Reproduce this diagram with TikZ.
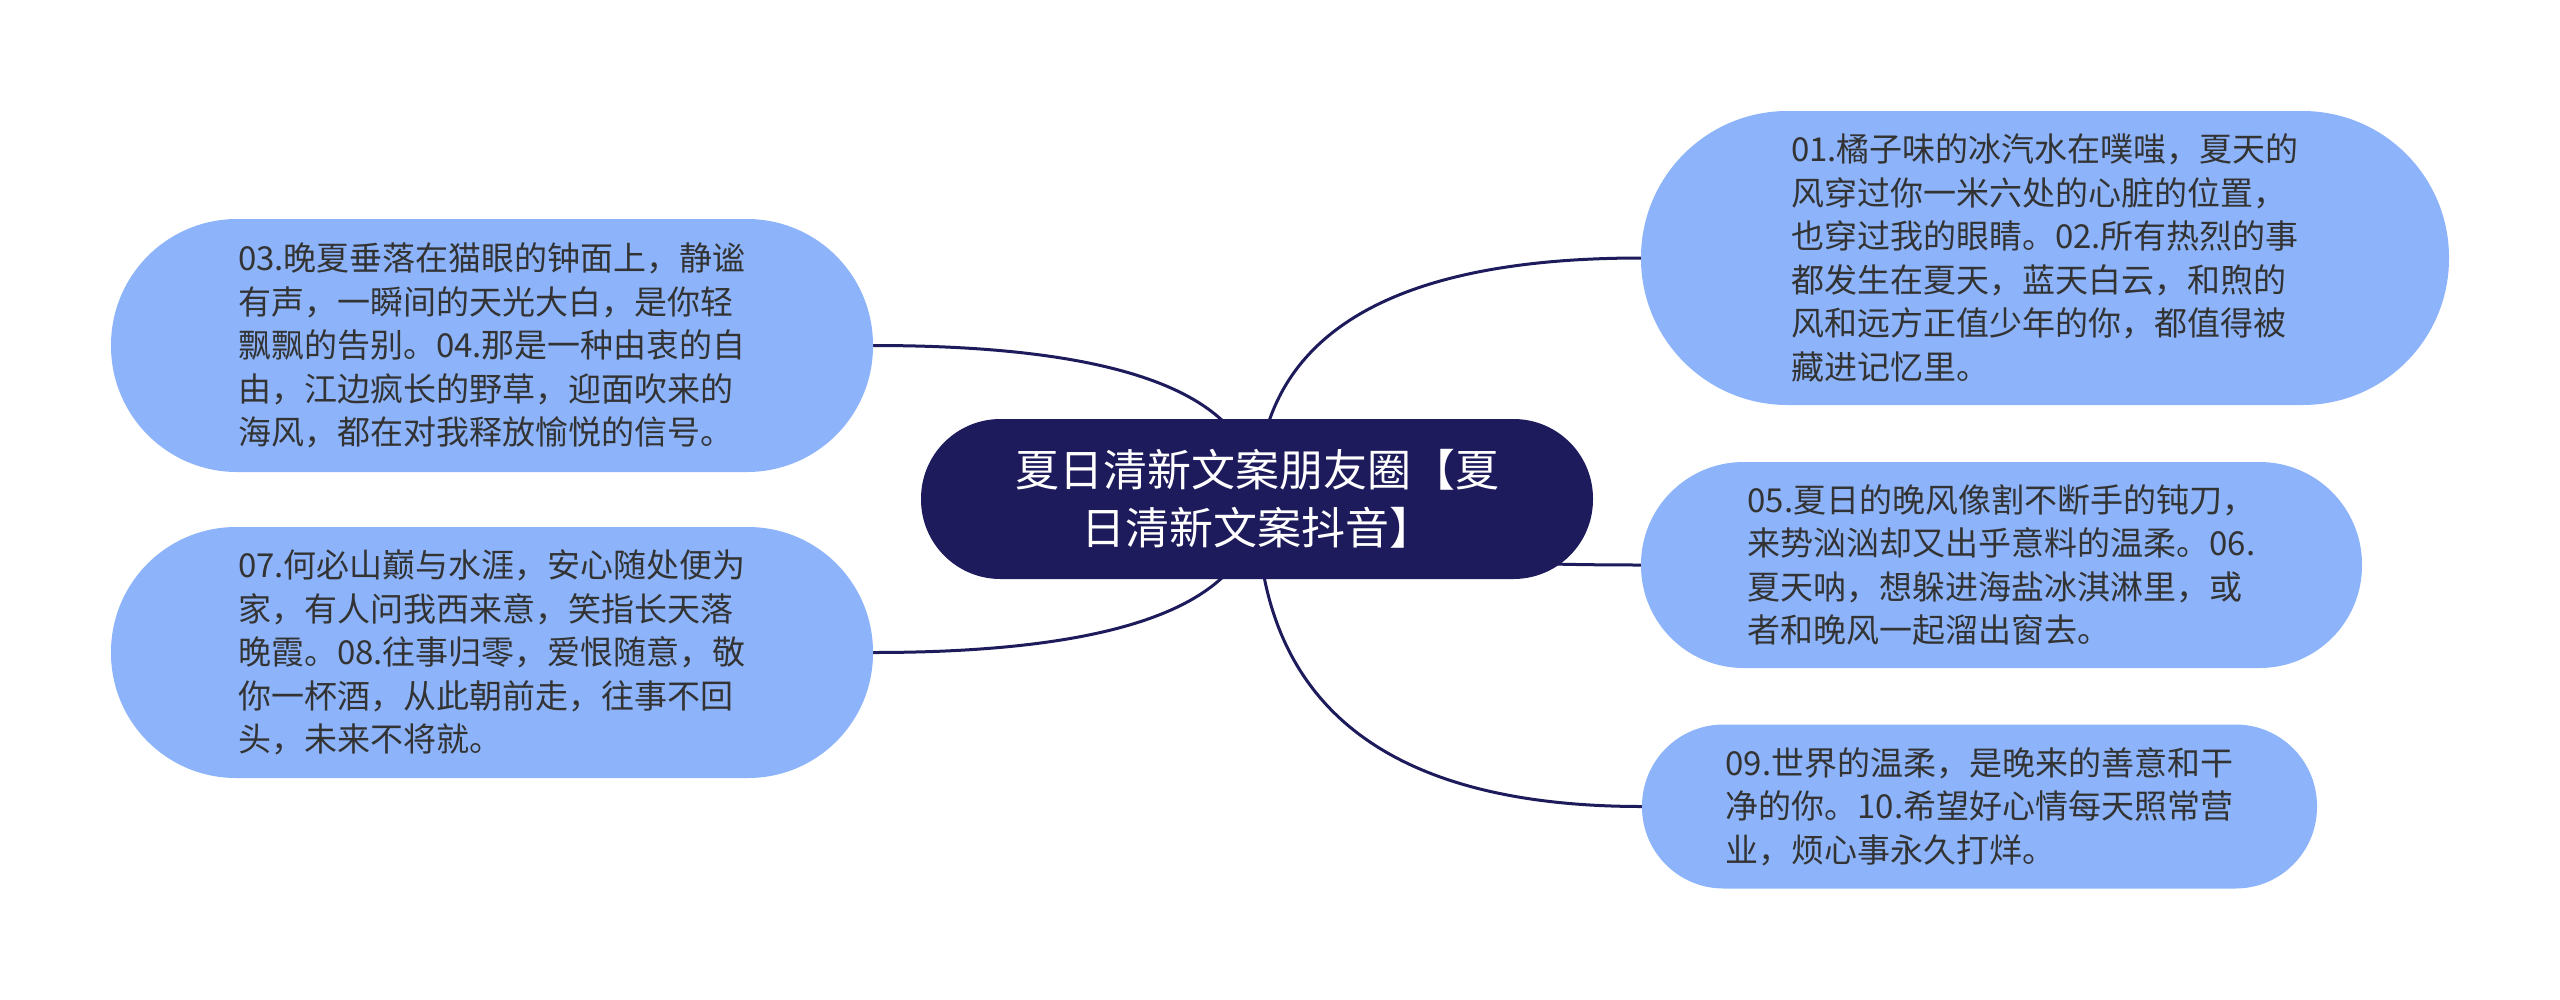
\documentclass[tikz,border=0pt]{standalone}
\usepackage{fontspec}
\setmainfont{Noto Sans CJK SC}
\usetikzlibrary{calc,backgrounds}
\definecolor{navy}{HTML}{1D1B5B}
\definecolor{leafblue}{HTML}{8DB4FA}
\definecolor{leaftext}{HTML}{333333}
\tikzset{
  rootbox/.style={fill=navy, text=white, rounded corners=79.5pt, minimum width=672pt, minimum height=160pt, inner sep=0pt, align=center, font=\fontsize{44pt}{58pt}\selectfont},
  leaf/.style={fill=leafblue, text=leaftext, inner sep=0pt, align=left, font=\fontsize{33pt}{43.6pt}\selectfont},
  conn/.style={draw=navy, line width=3pt},
}
\begin{document}
\begin{tikzpicture}[x=1pt,y=-1pt]
\useasboundingbox (0,0) rectangle (2560,999);
\node[rootbox] (root) at (1257,499) {夏日清新文案朋友圈【夏\\%
日清新文案抖音】};
\node[leaf, minimum width=808pt, minimum height=294pt, rounded corners=146.5pt] (n1) at (2045,258) {01.橘子味的冰汽水在噗嗤，夏天的\\%
风穿过你一米六处的心脏的位置，\\%
也穿过我的眼睛。02.所有热烈的事\\%
都发生在夏天，蓝天白云，和煦的\\%
风和远方正值少年的你，都值得被\\%
藏进记忆里。};
\node[leaf, minimum width=762pt, minimum height=253pt, rounded corners=126pt] (n3) at (492,345.5) {03.晚夏垂落在猫眼的钟面上，静谧\\%
有声，一瞬间的天光大白，是你轻\\%
飘飘的告别。04.那是一种由衷的自\\%
由，江边疯长的野草，迎面吹来的\\%
海风，都在对我释放愉悦的信号。};
\node[leaf, minimum width=762pt, minimum height=251pt, rounded corners=125pt] (n7) at (492,652.5) {07.何必山巅与水涯，安心随处便为\\%
家，有人问我西来意，笑指长天落\\%
晚霞。08.往事归零，爱恨随意，敬\\%
你一杯酒，从此朝前走，往事不回\\%
头，未来不将就。};
\node[leaf, minimum width=721pt, minimum height=206pt, rounded corners=102.5pt] (n5) at (2001.5,565) {05.夏日的晚风像割不断手的钝刀，\\%
来势汹汹却又出乎意料的温柔。06.\\%
夏天呐，想躲进海盐冰淇淋里，或\\%
者和晚风一起溜出窗去。};
\node[leaf, minimum width=675pt, minimum height=164pt, rounded corners=81.5pt] (n9) at (1979.5,806.5) {09.世界的温柔，是晚来的善意和干\\%
净的你。10.希望好心情每天照常营\\%
业，烦心事永久打烊。};
\begin{pgfonlayer}{background}
\fill[white] (0,0) rectangle (2560,999);
\foreach \n in {n1,n5,n9} {
  \coordinate (k\n) at (root.center |- \n.west);
  \draw[conn] (root.center) .. controls ($(root.center)!0.667!(k\n)$) and ($(\n.west)!0.667!(k\n)$) .. (\n.west);
}
\foreach \n in {n3,n7} {
  \coordinate (k\n) at (root.center |- \n.east);
  \draw[conn] (root.center) .. controls ($(root.center)!0.667!(k\n)$) and ($(\n.east)!0.667!(k\n)$) .. (\n.east);
}
\end{pgfonlayer}
\end{tikzpicture}
\end{document}
